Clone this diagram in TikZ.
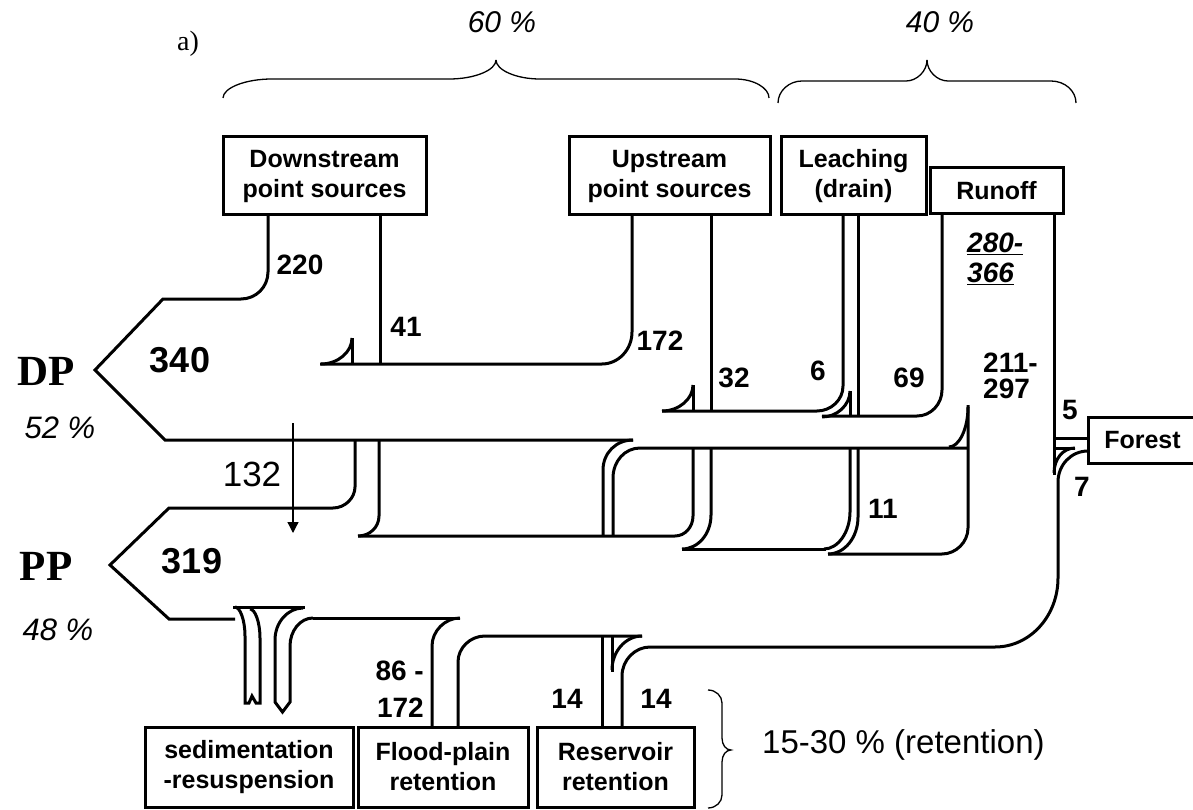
\documentclass[tikz,border=0pt]{standalone}
\usepackage{fontspec}
\setmainfont{Liberation Sans}
\newfontfamily\myserf{Liberation Serif}
\usetikzlibrary{arrows.meta}
\newcommand{\myboxf}{\fontsize{25}{30}\selectfont\bfseries}
\newcommand{\mynumf}{\fontsize{28}{30}\selectfont\bfseries}
\newcommand{\mybigf}{\fontsize{36}{38}\selectfont\bfseries}
\newcommand{\mydpf}{\myserf\fontsize{43}{45}\selectfont\bfseries}
\newcommand{\mypctf}{\fontsize{31}{33}\selectfont\itshape}
\newcommand{\myregf}{\fontsize{35}{37}\selectfont}
\newcommand{\myretf}{\fontsize{33}{35}\selectfont}
\newcommand{\myltrf}{\myserf\fontsize{28}{30}\selectfont}
\begin{document}
\begin{tikzpicture}[x=1pt,y=-1pt,
  fl/.style={line width=3pt},
  thinl/.style={line width=1.3pt},
  box/.style={draw,line width=3pt,inner sep=0pt,align=center,font=\myboxf},
  num/.style={inner sep=0pt,font=\mynumf},
  bignum/.style={inner sep=0pt,font=\mybigf},
  dpl/.style={inner sep=0pt,font=\mydpf},
  pct/.style={inner sep=0pt,font=\mypctf},
]
\fill[white] (0,0) rectangle (1193,810);
\useasboundingbox (0,0) rectangle (1193,810);

% boxes
\node[box,minimum width=203pt,minimum height=78pt] (ds) at (324.5,176) {Downstream\\point sources};
\node[box,minimum width=201pt,minimum height=78pt] (us) at (669.5,176) {Upstream\\point sources};
\node[box,minimum width=145pt,minimum height=78pt] (lc) at (853.5,176) {Leaching\\(drain)};
\node[box,minimum width=133pt,minimum height=46pt] (ro) at (996.5,191) {Runoff};
\node[box,minimum width=109pt,minimum height=46pt] (fo) at (1142.5,440) {Forest};
\node[box,minimum width=208pt,minimum height=80pt] (sd) at (249,767) {sedimentation\\-resuspension};
\node[box,minimum width=170pt,minimum height=80pt] (fp) at (443,767) {Flood-plain\\retention};
\node[box,minimum width=157pt,minimum height=80pt] (rs) at (615.5,767) {Reservoir\\retention};

% DP band
\draw[fl] (268,215) -- (268,272) .. controls (268,287) and (256,299) .. (241,299) -- (163,299) -- (95,370) -- (165,440) -- (633,440);
\draw[fl] (633,440) .. controls (616,440) and (603,453) .. (603,470) -- (603,536);
\draw[fl] (380,215) -- (380,364);
\draw[fl] (632,215) -- (632,332) .. controls (632,350) and (618,364) .. (602,364) -- (320,364);
\draw[fl] (352,338) -- (352,364);
\draw[fl] (352,338) .. controls (352,352) and (338,364) .. (321,364);
\draw[fl] (711,215) -- (711,411);
\draw[fl] (693,385) -- (693,411);
\draw[fl] (693,385) .. controls (693,399) and (679,411) .. (662,411);
\draw[fl] (843,215) -- (843,386) .. controls (843,400) and (831,411) .. (817,411) -- (662,411);
\draw[fl] (850,391) -- (850,416);
\draw[fl] (850,391) .. controls (850,405) and (837,417) .. (822,417);
\draw[fl] (858,215) -- (858,416);
\draw[fl] (942,214) -- (942,390) .. controls (942,404) and (931,416) .. (917,416) -- (822,416);
\draw[fl] (1054,214) -- (1054,475);
\draw[fl] (1054,438) -- (1088,438);
\draw[fl] (1054,448) -- (1075,448);
\draw[fl] (1075,448) .. controls (1063,448) and (1054,459) .. (1054,473);
\draw[fl] (1088,451) .. controls (1071,451) and (1058,465) .. (1058,482) -- (1058,578) .. controls (1058,616) and (1030,647) .. (995,647) -- (650,647) .. controls (635,647) and (622,660) .. (622,676) -- (622,727);

% runoff 211-297 and channel
\draw[fl] (968,405) -- (968,528) .. controls (968,542) and (956,554) .. (942,554) -- (828,554);
\draw[fl] (968,407) .. controls (968,429) and (959,447) .. (949,447);
\draw[fl] (968,448) -- (640,448) .. controls (625,448) and (613,461) .. (613,478) -- (613,536);

% PP band
\draw[fl] (355,440) -- (355,487) .. controls (355,498) and (345,508) .. (333,508) -- (169,508) -- (110,565) -- (169,619) -- (235,619);
\draw[fl] (379,440) -- (379,516) .. controls (379,527) and (370,536) .. (358,536);
\draw[fl] (358,536) -- (675,536) .. controls (685,536) and (693,527) .. (693,516) -- (693,448);
\draw[fl] (711,448) -- (711,515) .. controls (711,534) and (698,549) .. (682,549);
\draw[fl] (682,549) -- (826,549);
\draw[fl] (850,448) -- (850,512) .. controls (850,532) and (838,549) .. (824,549);
\draw[fl] (858,448) -- (858,517) .. controls (858,537) and (845,554) .. (828,554);

% sedimentation-resuspension
\draw[fl] (233,607) -- (305,607);
\draw[fl] (235,607) .. controls (240,607) and (245,620) .. (245,636) -- (245,703) -- (249,703) -- (252,696) -- (256,703) -- (260,703) -- (260,638) .. controls (260,622) and (255,609) .. (250,609);
\draw[fl] (303,608) .. controls (288,608) and (275,622) .. (275,640) -- (275,702) -- (282.5,712) -- (290,702) -- (290,646) .. controls (290,631) and (300,618) .. (313,618);
\draw[fl] (313,618) -- (460,618);
\draw[fl] (460,618) .. controls (445,618) and (432,631) .. (432,646) -- (432,727);
\draw[fl] (458,727) -- (458,662) .. controls (458,648) and (470,636) .. (485,636) -- (642,636);
\draw[fl] (602,636) -- (602,727);
\draw[fl] (612,636) -- (612,672);
\draw[fl] (642,636) .. controls (626,636) and (612,651) .. (612,670);

% 132 arrow
\draw[thinl,-{Triangle[length=11pt,width=11pt]}] (293,423) -- (293,533);

% braces
\draw[thinl] (223,98) .. controls (223,88) and (245,79) .. (272,79) -- (449,79) .. controls (475,79) and (496,70) .. (496,60);
\draw[thinl] (496,60) .. controls (496,70) and (516,79) .. (540,79) -- (735,79) .. controls (754,79) and (769,88) .. (769,98);
\draw[thinl] (778,103) .. controls (778,91) and (789,81) .. (802,81) -- (906,81) .. controls (917,81) and (927,71) .. (927,60);
\draw[thinl] (927,60) .. controls (927,71) and (937,81) .. (948,81) -- (1051,81) .. controls (1065,81) and (1076,91) .. (1076,103);
\draw[thinl] (708,690) .. controls (716,690) and (722,696) .. (722,703) -- (722,738) .. controls (722,745) and (726,750) .. (731,750) .. controls (726,750) and (722,755) .. (722,762) -- (722,795) .. controls (722,802) and (716,808) .. (708,808);

% labels
\node[num] (n220) at (300,265) {220};
\node[num] (n41) at (406,327) {41};
\node[bignum] (n340) at (180,360) {340};
\node[num] (n172) at (660,341) {172};
\node[num] (n32) at (734,378) {32};
\node[num] (n6) at (818,371) {6};
\node[num] (n69) at (909,378) {69};
\node[num,anchor=base west] (n280) at (967,253) {\underline{\textit{280-}}};
\node[num,anchor=base west] (n366) at (967,283) {\underline{\textit{366}}};
\node[num,anchor=base west] (n211) at (983,372) {211-};
\node[num,anchor=base west] (n297) at (983,398) {297};
\node[num] (n5) at (1070,410) {5};
\node[num] (n7) at (1082,487) {7};
\node[num] (n11) at (883,509) {11};
\node[num,anchor=base east] (n86) at (424,680) {86 -};
\node[num,anchor=base east] (n172b) at (424,717) {172};
\node[num] (n14a) at (567,699) {14};
\node[num] (n14b) at (656,699) {14};
\node[bignum] (n319) at (192,561) {319};
\node[dpl] (dp) at (46,371) {DP};
\node[dpl] (pp) at (46,566) {PP};
\node[pct] (p52) at (60,428) {52 \%};
\node[pct] (p48) at (58,630) {48 \%};
\node[inner sep=0pt,font=\myregf] (n132) at (252,474) {132};
\node[pct,font=\fontsize{30}{32}\selectfont\itshape] (p60) at (502,22) {60 \%};
\node[pct,font=\fontsize{30}{32}\selectfont\itshape] (p40) at (940,22) {40 \%};
\node[inner sep=0pt,font=\myltrf] (lab) at (188,44) {a)};
\node[inner sep=0pt,font=\myretf,anchor=west] (ret) at (762,745) {15-30 \% (retention)};
\end{tikzpicture}
\end{document}
